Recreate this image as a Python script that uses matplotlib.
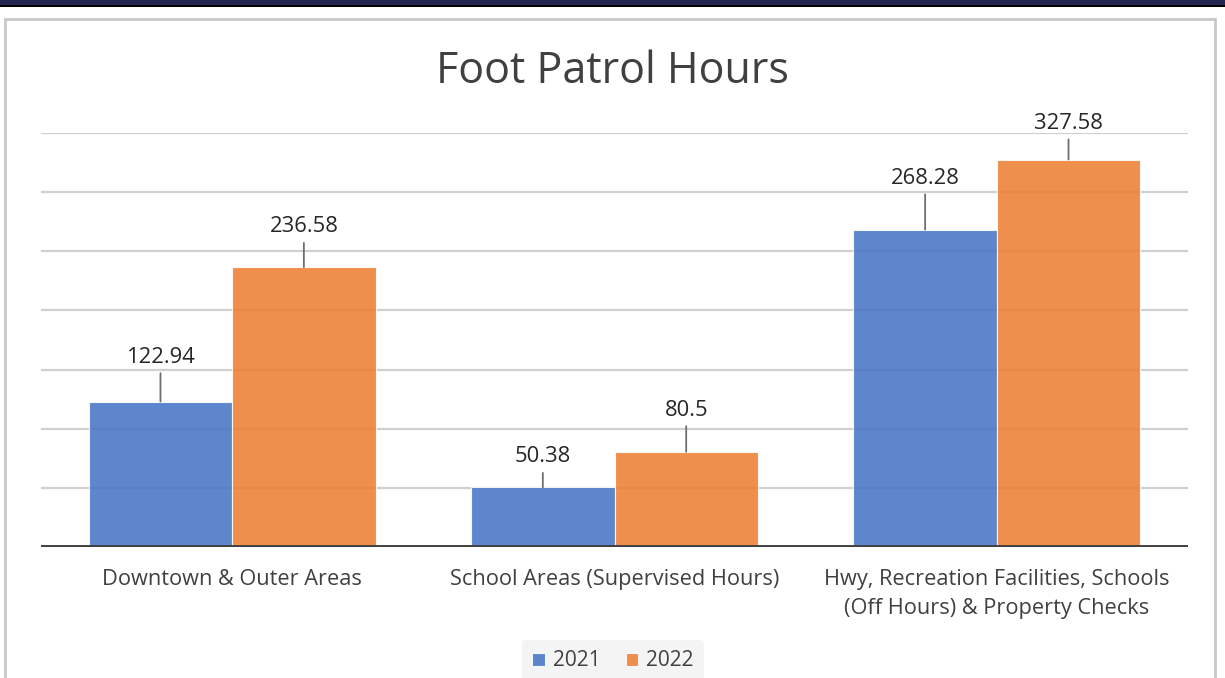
import matplotlib
matplotlib.use('Agg')
import matplotlib.pyplot as plt
from matplotlib.patches import Rectangle
import numpy as np

plt.rcParams['font.family'] = ['Open Sans', 'DejaVu Sans']

# data
categories = ['Downtown & Outer Areas',
              'School Areas (Supervised Hours)',
              'Hwy, Recreation Facilities, Schools\n(Off Hours) & Property Checks']
years = ['2021', '2022']
hours_2021 = [122.94, 50.38, 268.28]
hours_2022 = [236.58, 80.5, 327.58]
labels_2021 = ['122.94', '50.38', '268.28']
labels_2022 = ['236.58', '80.5', '327.58']

# label offsets above bar tops (points), as placed in the original
off_2021 = [32, 22, 37]
off_2022 = [29, 30, 26]

blue = '#4472C4'
orange = '#ED7D31'

fig = plt.figure(figsize=(12.25, 6.78), dpi=100)
W, H = 1225, 678

# frame decoration (page border)
fig.add_artist(Rectangle((0, 1 - 5 / H), 1, 5 / H, transform=fig.transFigure,
                         facecolor='#222650', edgecolor='none', zorder=-2))
fig.add_artist(Rectangle((0, 1 - 7 / H), 1, 2 / H, transform=fig.transFigure,
                         facecolor='#000000', edgecolor='none', zorder=-2))
fig.add_artist(Rectangle((5 / W, -0.05), 1210 / W, 1.05 - 19 / H, transform=fig.transFigure,
                         facecolor='white', edgecolor='#c8c8c8', linewidth=2, zorder=-2))

ax = fig.add_axes([41 / W, 1 - 547 / H, 1147 / W, 414 / H])
ax.patch.set_alpha(0)
x = np.arange(len(categories))
w = 0.375
for y in range(50, 351, 50):
    ax.axhline(y, color='#d0d0d0', linewidth=1.6, zorder=1)

b1 = ax.bar(x - w / 2, hours_2021, w, color=blue, alpha=0.86, zorder=2,
            edgecolor='white', linewidth=0.8, label=years[0])
b2 = ax.bar(x + w / 2, hours_2022, w, color=orange, alpha=0.86, zorder=2,
            edgecolor='white', linewidth=0.8, label=years[1])

for xs, vals, labs, offs in [(x - w / 2, hours_2021, labels_2021, off_2021),
                             (x + w / 2, hours_2022, labels_2022, off_2022)]:
    for xi, v, lab, o in zip(xs, vals, labs, offs):
        ax.annotate(lab, xy=(xi, v), xytext=(0, o), textcoords='offset points',
                    ha='center', va='center', fontsize=15.8, color='#262626',
                    annotation_clip=False,
                    arrowprops=dict(arrowstyle='-', color='#6e6e6e', lw=1.3,
                                    shrinkA=2, shrinkB=0))

ax.axhline(0, color='#404040', linewidth=2.8, zorder=3)
ax.set_xlim(-0.5, 2.5)
ax.set_ylim(0, 350)
ax.set_xticks(x)
ax.set_xticklabels(categories, fontsize=15.7, color='#404040', linespacing=1.5)
ax.tick_params(axis='x', length=0, pad=16)
ax.set_yticks([])
for s in ax.spines.values():
    s.set_visible(False)

fig.text(0.5, 1 - 72 / H, 'Foot Patrol Hours', ha='center', va='center',
         fontsize=31, color='#404040')

leg = fig.legend(handles=[b1, b2], loc='center', bbox_to_anchor=(613 / W, 1 - 661 / H),
                 ncol=2, frameon=True, fontsize=15, handlelength=0.6, handleheight=0.6,
                 handletextpad=0.4, columnspacing=1.2, borderpad=0.5)
leg.get_frame().set_facecolor('#f2f2f2')
leg.get_frame().set_edgecolor('none')
for t in leg.get_texts():
    t.set_color('#404040')

fig.savefig('out.png', dpi=100)
